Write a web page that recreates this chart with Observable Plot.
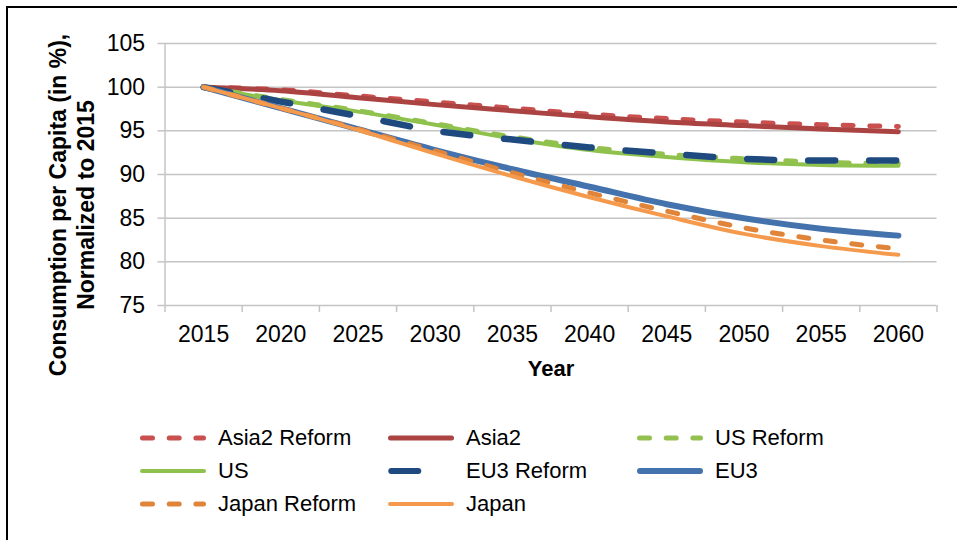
<!DOCTYPE html>
<html>
<head>
<meta charset="utf-8">
<script src="https://cdn.jsdelivr.net/npm/d3@7"></script>
<script src="https://cdn.jsdelivr.net/npm/@observablehq/plot@0.6"></script>
<style>
  html, body { margin: 0; padding: 0; background: #fff; }
  body { font-family: "Liberation Sans", Arial, sans-serif; color: #000; }
  #wrap { position: relative; width: 957px; height: 540px; overflow: hidden; background: #fff; }
  #frameTop { position: absolute; left: 6px; top: 6px; right: 0; height: 2px; background: #000; }
  #frameLeft { position: absolute; left: 6px; top: 6px; width: 2px; bottom: 0; background: #000; }
  #chart { position: absolute; left: 0; top: 0; }
  #ytitle { position: absolute; width: 420px; left: -138px; top: 177px; height: 56px;
            transform: rotate(-90deg); transform-origin: 50% 50%;
            text-align: center; font-weight: bold; font-size: 23px; line-height: 28px; white-space: nowrap; }
  #xtitle { position: absolute; left: 451px; width: 200px; top: 356px; text-align: center;
            font-weight: bold; font-size: 22px; line-height: 26px; }
  #legend { position: absolute; left: 0; top: 0; width: 957px; height: 540px; pointer-events: none; }
  .item { position: absolute; height: 28px; display: flex; align-items: center; font-size: 22px; white-space: nowrap; }
  .item svg { display: block; margin-right: 8px; }
</style>
</head>
<body>
<div id="wrap">
  <div id="chart"></div>
  <div id="frameTop"></div>
  <div id="frameLeft"></div>
  <div id="ytitle">Consumption per Capita (in %),<br>Normalized to 2015</div>
  <div id="xtitle">Year</div>
  <div id="legend"></div>
</div>
<script>
// ---- data ----
const years = [2015, 2020, 2025, 2030, 2035, 2040, 2045, 2050, 2055, 2060];
const seriesNames = ["Asia2 Reform", "Asia2", "US Reform", "US", "EU3 Reform", "EU3", "Japan Reform", "Japan"];
const asia2Reform = [100, 99.7, 99.0, 98.3, 97.6, 96.9, 96.4, 96.0, 95.7, 95.5];
const asia2       = [100, 99.6, 98.8, 98.0, 97.3, 96.6, 96.0, 95.6, 95.2, 94.9];
const usReform    = [100, 98.6, 97.3, 95.8, 94.3, 93.1, 92.3, 91.8, 91.4, 91.25];
const us          = [100, 98.5, 97.2, 95.7, 94.1, 92.8, 92.0, 91.4, 91.1, 91.0];
const eu3Reform   = [100, 98.35, 96.7, 95.0, 94.0, 93.1, 92.4, 91.8, 91.6, 91.6];
const eu3         = [100, 97.6, 95.2, 92.8, 90.6, 88.6, 86.6, 85.0, 83.8, 83.0];
const japanReform = [100, 97.6, 95.2, 92.7, 90.2, 87.9, 85.8, 83.9, 82.5, 81.5];
const japan       = [100, 97.6, 95.1, 92.4, 89.8, 87.4, 85.2, 83.2, 81.8, 80.8];
const yTicks = [75, 80, 85, 90, 95, 100, 105];
const xTickLabels = [2015, 2020, 2025, 2030, 2035, 2040, 2045, 2050, 2055, 2060];

// ---- styles ----
const styles = {
  "Asia2 Reform": {color: "#C9504F", width: 5, dash: "10,16.7"},
  "Asia2":        {color: "#AA4341", width: 5, dash: null},
  "US Reform":    {color: "#93C04F", width: 5, dash: "10,16.7"},
  "US":           {color: "#8FC24D", width: 4, dash: null},
  "EU3 Reform":   {color: "#1E4A7F", width: 6.5, dash: "27,34"},
  "EU3":          {color: "#4372AC", width: 6, dash: null},
  "Japan Reform": {color: "#E0843A", width: 5, dash: "10,16.7"},
  "Japan":        {color: "#F59A4C", width: 4, dash: null}
};

const valuesBySeries = [asia2Reform, asia2, usReform, us, eu3Reform, eu3, japanReform, japan];
const table = seriesNames.map((name, i) => ({
  name,
  rows: years.map((year, j) => ({year, value: valuesBySeries[i][j], name}))
}));

const grid = "#c4c4c4";
const edges = xTickLabels.map(y => y - 2.5).concat([2062.5]);

const lineMarks = table.map(s => Plot.line(s.rows, {
  x: "year", y: "value",
  stroke: styles[s.name].color,
  strokeWidth: styles[s.name].width,
  strokeDasharray: styles[s.name].dash || undefined,
  strokeLinecap: "round",
  strokeLinejoin: "round",
  curve: "monotone-x"
}));

const plot = Plot.plot({
  width: 957,
  height: 400,
  marginTop: 43,
  marginBottom: 95,
  marginLeft: 164.5,
  marginRight: 20.5,
  style: {fontFamily: "Liberation Sans, Arial, sans-serif", fontSize: "23px", color: "#000", background: "transparent", overflow: "visible"},
  x: {type: "linear", domain: [2012.5, 2062.5]},
  y: {domain: [75, 105]},
  marks: [
    Plot.ruleY(yTicks, {stroke: grid, strokeWidth: 1.5}),
    Plot.ruleX([2012.5], {y1: 75, y2: 105, stroke: grid, strokeWidth: 1.5}),
    Plot.axisY({ticks: yTicks, tickSize: 7, tickPadding: 13, stroke: grid, strokeWidth: 1.5, fill: "#000", fontSize: 23, label: null, tickFormat: d => String(d)}),
    Plot.axisX({ticks: edges, tickSize: 7, stroke: grid, strokeWidth: 1.5, tickFormat: () => "", label: null}),
    Plot.axisX({ticks: xTickLabels, tickSize: 0, tickPadding: 20, fill: "#000", fontSize: 23, label: null, tickFormat: d => String(d)}),
    ...lineMarks
  ]
});
document.getElementById("chart").appendChild(plot);

// ---- legend ----
const legendCols = [140, 388, 637];
const legendRows = [438, 471, 504];
const legend = document.getElementById("legend");
seriesNames.forEach((name, i) => {
  const col = i % 3, row = Math.floor(i / 3);
  const st = styles[name];
  const item = document.createElement("div");
  item.className = "item";
  item.style.left = legendCols[col] + "px";
  item.style.top = (legendRows[row] - 14) + "px";
  const ns = "http://www.w3.org/2000/svg";
  const svg = document.createElementNS(ns, "svg");
  svg.setAttribute("width", 70);
  svg.setAttribute("height", 14);
  const ln = document.createElementNS(ns, "line");
  const w = st.width;
  ln.setAttribute("x1", w / 2);
  ln.setAttribute("x2", 66 - w / 2);
  ln.setAttribute("y1", 7);
  ln.setAttribute("y2", 7);
  ln.setAttribute("stroke", st.color);
  ln.setAttribute("stroke-width", Math.min(w, 6));
  ln.setAttribute("stroke-linecap", "round");
  if (st.dash) ln.setAttribute("stroke-dasharray", st.dash);
  svg.appendChild(ln);
  item.appendChild(svg);
  const span = document.createElement("span");
  span.textContent = name;
  item.appendChild(span);
  legend.appendChild(item);
});
</script>
</body>
</html>
